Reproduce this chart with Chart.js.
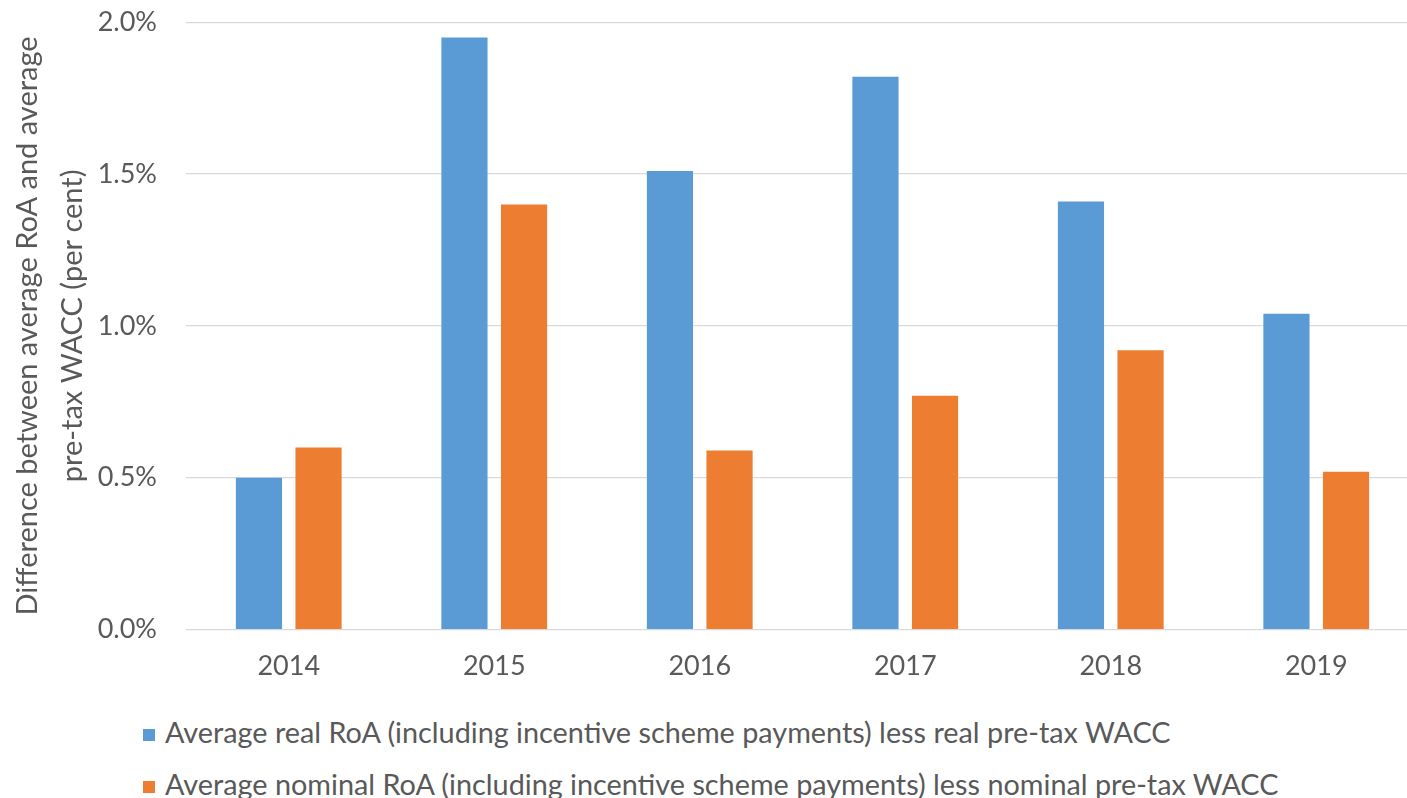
<!DOCTYPE html>
<html>
<head>
<meta charset="utf-8">
<script src="https://cdn.jsdelivr.net/npm/chart.js"></script>
<style>
  html, body { margin: 0; padding: 0; background: #fff; overflow: hidden; }
  #wrap { position: relative; width: 1420px; height: 798px; }
  #chartBox { position: absolute; left: 0; top: -23px; width: 1420px; height: 735px; }
  #legend { position: absolute; left: 143px; top: 712px; font-family: Lato, sans-serif; font-size: 28.8px; color: #595959; }
  #legend .item { height: 52px; line-height: 40px; white-space: nowrap; }
  #legend .box { display: inline-block; width: 12px; height: 12px; margin-right: 10px; vertical-align: 2px; }
</style>
</head>
<body>
<div id="wrap">
  <div id="chartBox"><canvas id="chart"></canvas></div>
  <div id="legend"></div>
</div>
<script>
// categories and values (per cent)
const years = ["2014", "2015", "2016", "2017", "2018", "2019"];
const realDiff = [0.50, 1.95, 1.51, 1.82, 1.41, 1.04];
const nominalDiff = [0.60, 1.40, 0.59, 0.77, 0.92, 0.52];
const seriesNames = [
    "Average real RoA (including incentive scheme payments) less real pre-tax WACC",
    "Average nominal RoA (including incentive scheme payments) less nominal pre-tax WACC"
];
const seriesColors = ["#5b9bd5", "#ed7d31"];
const yTitle = ["Difference between average RoA and average", "pre-tax WACC (per cent)"];

const textColor = "#595959";

const chart = new Chart(document.getElementById("chart"), {
    type: "bar",
    data: {
        labels: years,
        datasets: [
            { label: seriesNames[0], data: realDiff, backgroundColor: seriesColors[0] },
            { label: seriesNames[1], data: nominalDiff, backgroundColor: seriesColors[1] }
        ]
    },
    options: {
        responsive: true,
        maintainAspectRatio: false,
        animation: false,
        categoryPercentage: 0.58,
        barPercentage: 0.775,
        layout: { padding: { top: 0, right: 1, bottom: 10, left: 0 } },
        plugins: {
            legend: { display: false },
            tooltip: { enabled: false }
        },
        scales: {
            x: {
                grid: { display: false, drawTicks: false },
                border: { display: false },
                ticks: {
                    color: textColor,
                    padding: 20,
                    font: { family: "Lato", size: 27 }
                }
            },
            y: {
                min: 0,
                max: 2.0,
                afterFit: scale => { scale.width = 186; },
                grid: { color: "#d9d9d9", lineWidth: 1.3, drawTicks: false },
                border: { display: false },
                ticks: {
                    stepSize: 0.5,
                    color: textColor,
                    padding: 29,
                    font: { family: "Lato", size: 27 },
                    callback: v => v.toFixed(1) + "%"
                },
                title: {
                    display: true,
                    text: yTitle,
                    color: textColor,
                    padding: { top: 5, bottom: 0 },
                    font: { family: "Lato", size: 29, lineHeight: 1.55 }
                }
            }
        }
    }
});

// legend below the chart, one series per line
const legendEl = document.getElementById("legend");
chart.data.datasets.forEach(ds => {
    const row = document.createElement("div");
    row.className = "item";
    row.innerHTML = `<span class="box" style="background:${ds.backgroundColor}"></span>${ds.label}`;
    legendEl.appendChild(row);
});
</script>
</body>
</html>
